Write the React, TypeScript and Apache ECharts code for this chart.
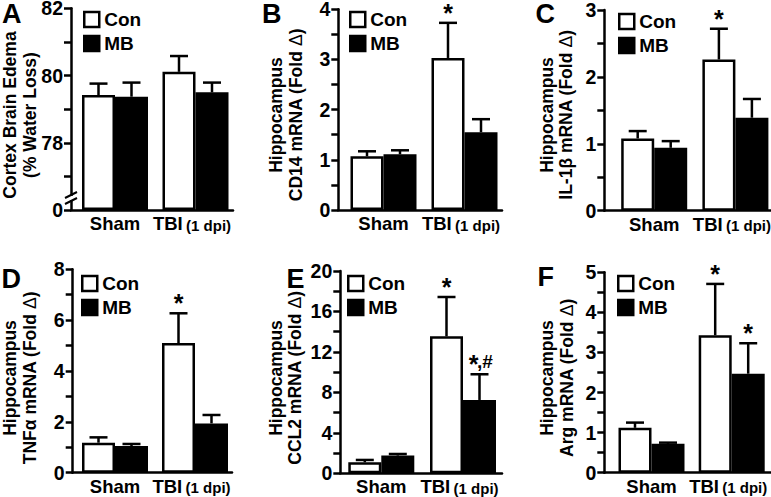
import React, { useEffect, useRef } from 'react';
import * as echarts from 'echarts';

// ---------- data ----------
const categories = ['Sham', 'TBI'];
const categoryNotes = ['', '(1 dpi)'];
const seriesNames = ['Con', 'MB'];
const panelLetters = ['A', 'B', 'C', 'D', 'E', 'F'];

// A: Cortex brain edema (% water loss)
const aConMean = [79.42, 80.11];
const aConErr = [0.34, 0.47];
const aMbMean = [79.37, 79.5];
const aMbErr = [0.42, 0.29];
const aConMarks = ['', ''];
const aMbMarks = ['', ''];
const aAxis = [76, 82, 2]; // min, max, interval
const aTickLabels: Record<number, string> = { 76: '0', 78: '78', 80: '80', 82: '82' };

// B: CD14
const bConMean = [1.07, 3.03];
const bConErr = [0.1, 0.7];
const bMbMean = [1.11, 1.55];
const bMbErr = [0.08, 0.26];
const bConMarks = ['', '*'];
const bMbMarks = ['', ''];
const bAxis = [0, 4, 1];

// C: IL-1beta
const cConMean = [1.08, 2.26];
const cConErr = [0.11, 0.46];
const cMbMean = [0.94, 1.39];
const cMbErr = [0.1, 0.28];
const cConMarks = ['', '*'];
const cMbMarks = ['', ''];
const cAxis = [0, 3, 1];

// D: TNF-alpha
const dConMean = [1.18, 5.1];
const dConErr = [0.21, 1.17];
const dMbMean = [1.05, 1.94];
const dMbErr = [0.08, 0.33];
const dConMarks = ['', '*'];
const dMbMarks = ['', ''];
const dAxis = [0, 8, 2];

// E: CCL2
const eConMean = [1.09, 13.54];
const eConErr = [0.23, 3.89];
const eMbMean = [1.75, 7.25];
const eMbErr = [0.16, 2.54];
const eConMarks = ['', '*'];
const eMbMarks = ['', '*,#'];
const eAxis = [0, 20, 4];

// F: Arg
const fConMean = [1.12, 3.43];
const fConErr = [0.13, 1.28];
const fMbMean = [0.72, 2.47];
const fMbErr = [0.03, 0.76];
const fConMarks = ['', '*'];
const fMbMarks = ['', '*'];
const fAxis = [0, 5, 1];

const titleLines = [
  ['Cortex Brain Edema', '(% Water Loss)'],
  ['Hippocampus', 'CD14 mRNA (Fold {d|Δ})'],
  ['Hippocampus', 'IL-1β mRNA (Fold {d|Δ})'],
  ['Hippocampus', 'TNFα mRNA (Fold {d|Δ})'],
  ['Hippocampus', 'CCL2 mRNA (Fold {d|Δ})'],
  ['Hippocampus', 'Arg mRNA (Fold {d|Δ})'],
];

const panelData = [
  { con: aConMean, conErr: aConErr, mb: aMbMean, mbErr: aMbErr, conMarks: aConMarks, mbMarks: aMbMarks, axis: aAxis, labels: aTickLabels },
  { con: bConMean, conErr: bConErr, mb: bMbMean, mbErr: bMbErr, conMarks: bConMarks, mbMarks: bMbMarks, axis: bAxis, labels: null },
  { con: cConMean, conErr: cConErr, mb: cMbMean, mbErr: cMbErr, conMarks: cConMarks, mbMarks: cMbMarks, axis: cAxis, labels: null },
  { con: dConMean, conErr: dConErr, mb: dMbMean, mbErr: dMbErr, conMarks: dConMarks, mbMarks: dMbMarks, axis: dAxis, labels: null },
  { con: eConMean, conErr: eConErr, mb: eMbMean, mbErr: eMbErr, conMarks: eConMarks, mbMarks: eMbMarks, axis: eAxis, labels: null },
  { con: fConMean, conErr: fConErr, mb: fMbMean, mbErr: fMbErr, conMarks: fConMarks, mbMarks: fMbMarks, axis: fAxis, labels: null },
];

// ---------- layout (pixels) ----------
const layouts = [
  { axisX: 71, axisEnd: 233, top: 8.3, bottom: 210, shamC: 115, tbiC: 195.5, legX: 83, legY: 10, t1: 10, t2: 30, tY: 115, letX: 2, letY: 14 },
  { axisX: 338.3, axisEnd: 502, top: 9.3, bottom: 210, shamC: 383.5, tbiC: 464.5, legX: 349, legY: 10, t1: 276, t2: 296, tY: 115, letX: 262, letY: 13.5 },
  { axisX: 604.3, axisEnd: 776, top: 10, bottom: 210.7, shamC: 654.2, tbiC: 735.4, legX: 618, legY: 12, t1: 547, t2: 566, tY: 115, letX: 535.5, letY: 14 },
  { axisX: 72.7, axisEnd: 232, top: 269.3, bottom: 472.7, shamC: 115, tbiC: 195, legX: 81, legY: 274, t1: 10, t2: 30, tY: 378, letX: 1.5, letY: 278.5 },
  { axisX: 340.3, axisEnd: 502, top: 271, bottom: 473.3, shamC: 381.3, tbiC: 463, legX: 347, legY: 274, t1: 276, t2: 295, tY: 378, letX: 286.5, letY: 278.5 },
  { axisX: 604.3, axisEnd: 776, top: 272.3, bottom: 472.7, shamC: 651.5, tbiC: 731.7, legX: 617, legY: 274, t1: 547, t2: 567, tY: 378, letX: 537.5, letY: 276.5 },
];

const FONT = "'Liberation Sans', Arial, Helvetica, sans-serif";
const BAR_W = 33;
const CAP = 9;
const STAR_GAP = 10;
const LW = 2.5;

function buildOption() {
  const grid: any[] = [];
  const xAxis: any[] = [];
  const yAxis: any[] = [];
  const series: any[] = [];
  const legend: any[] = [];
  const graphic: any[] = [];

  panelData.forEach((p, k) => {
    const L = layouts[k];
    const W = L.tbiC - L.shamC;
    const h = L.bottom - L.top;
    const [mn, mx, iv] = p.axis;
    const ga = 2 * k;
    const gb = 2 * k + 1;
    grid.push({ left: L.axisX, top: L.top, width: L.axisEnd - L.axisX, height: h, containLabel: false, outerBoundsMode: 'none' });
    grid.push({ left: L.shamC - W / 2, top: L.top, width: 2 * W, height: h, containLabel: false, outerBoundsMode: 'none' });

    xAxis.push({
      gridIndex: ga, type: 'category', data: categories, boundaryGap: true,
      axisLine: { show: true, onZero: false, lineStyle: { color: '#000', width: LW } },
      axisTick: { show: false }, axisLabel: { show: false }, splitLine: { show: false },
    });
    xAxis.push({
      gridIndex: gb, type: 'category', data: categories, boundaryGap: true,
      axisLine: { show: false }, axisTick: { show: false }, splitLine: { show: false },
      axisLabel: {
        show: true, interval: 0, margin: 4,
        formatter: (v: string, i: number) => (categoryNotes[i] ? `{b|${v}} {s|${categoryNotes[i]}}` : `{b|${v}}`),
        rich: {
          b: { fontSize: 18.5, fontWeight: 'bold', fontFamily: FONT, color: '#000' },
          s: { fontSize: 15, fontWeight: 'bold', fontFamily: FONT, color: '#000', padding: [3, 7, 0, 0] },
        },
      },
    });
    const labels = p.labels;
    yAxis.push({
      gridIndex: ga, type: 'value', min: mn, max: mx, interval: iv, startValue: mn,
      axisLine: { show: true, lineStyle: { color: '#000', width: LW } },
      axisTick: { show: true, length: 7, lineStyle: { color: '#000', width: LW } },
      minorTick: { show: true, splitNumber: 2, length: 7, lineStyle: { color: '#000', width: LW } },
      splitLine: { show: false }, minorSplitLine: { show: false },
      axisLabel: {
        margin: 8, fontSize: 19.5, fontWeight: 'bold', fontFamily: FONT, color: '#000', lineHeight: 16,
        padding: [3, 0, 0, 0],
        formatter: (v: number) => (labels ? (labels[v] ?? '') : String(v)),
      },
    });
    yAxis.push({ gridIndex: gb, type: 'value', min: mn, max: mx, interval: iv, startValue: mn, show: false, splitLine: { show: false } });

    const barBase = { type: 'bar', xAxisIndex: gb, yAxisIndex: gb, barWidth: BAR_W, barGap: '0%', clip: true };
    series.push({ ...barBase, name: seriesNames[0], data: p.con, itemStyle: { color: '#fff', borderColor: '#000', borderWidth: LW } });
    series.push({ ...barBase, name: seriesNames[1], data: p.mb, itemStyle: { color: '#000', borderColor: '#000', borderWidth: LW } });

    const mkErr = (means: number[], errs: number[], marks: string[], side: number) => ({
      type: 'custom', xAxisIndex: gb, yAxisIndex: gb, clip: false, z: 5,
      data: means.map((m, i) => [i, m, errs[i]]),
      renderItem: (params: any, api: any) => {
        const i = api.value(0);
        const m = api.value(1);
        const e = api.value(2);
        const p0 = api.coord([i, m]);
        const p1 = api.coord([i, m + e]);
        const x = p0[0] + (side * BAR_W) / 2;
        const children: any[] = [
          { type: 'line', shape: { x1: x, y1: p0[1], x2: x, y2: p1[1] }, style: { stroke: '#000', lineWidth: LW } },
          { type: 'line', shape: { x1: x - CAP, y1: p1[1], x2: x + CAP, y2: p1[1] }, style: { stroke: '#000', lineWidth: LW } },
        ];
        const mk = marks[params.dataIndex];
        if (mk) {
          const rest = mk.replace('*', '');
          children.push({
            type: 'text', x: rest ? x - 6 : x, y: p1[1] - STAR_GAP,
            style: { text: '*', align: 'center', verticalAlign: 'middle', fontSize: 25, fontWeight: 'bold', fontFamily: FONT, fill: '#000' },
          });
          if (rest) {
            children.push({
              type: 'text', x: x - 2.5, y: p1[1] - 13,
              style: { text: rest, align: 'left', verticalAlign: 'middle', fontSize: 19, fontWeight: 'bold', fontFamily: FONT, fill: '#000' },
            });
          }
        }
        return { type: 'group', children };
      },
    });
    series.push(mkErr(p.con, p.conErr, p.conMarks, -1));
    series.push(mkErr(p.mb, p.mbErr, p.mbMarks, 1));

    legend.push({
      left: L.legX, top: L.legY, orient: 'vertical', padding: 0, itemGap: 5,
      itemWidth: 15, itemHeight: 15, icon: 'rect', selectedMode: false,
      data: [
        { name: seriesNames[0], itemStyle: { color: '#fff', borderColor: '#000', borderWidth: LW } },
        { name: seriesNames[1], itemStyle: { color: '#000', borderColor: '#000', borderWidth: LW } },
      ],
      textStyle: { fontSize: 19, fontWeight: 'bold', fontFamily: FONT, color: '#000', lineHeight: 15 },
    });

    // panel letter
    graphic.push({
      type: 'text', x: L.letX, y: L.letY, z: 100,
      style: { text: panelLetters[k], fontSize: 27, lineHeight: 20, fontWeight: 'bold', fontFamily: FONT, fill: '#000', align: 'left', verticalAlign: 'middle' },
    });
    // axis titles
    const tl = titleLines[k];
    [L.t1, L.t2].forEach((tx, j) => {
      graphic.push({
        type: 'text', x: tx, y: L.tY, rotation: Math.PI / 2, z: 100,
        style: {
          text: tl[j], fontSize: 17.5, fontWeight: 'bold', fontFamily: FONT, fill: '#000',
          align: 'center', verticalAlign: 'middle',
          rich: { d: { fontSize: 17.5, fontWeight: 'normal', fontFamily: FONT, fill: '#000' } },
        },
      });
    });
  });

  // axis break on panel A
  const LA = layouts[0];
  graphic.push({ type: 'rect', z: 100, shape: { x: LA.axisX - 3, y: 196, width: 6, height: 4 }, style: { fill: '#fff' } });
  graphic.push({ type: 'line', z: 101, shape: { x1: LA.axisX - 6, y1: 198, x2: LA.axisX + 6, y2: 192 }, style: { stroke: '#000', lineWidth: 2 } });
  graphic.push({ type: 'line', z: 101, shape: { x1: LA.axisX - 6, y1: 204, x2: LA.axisX + 6, y2: 198 }, style: { stroke: '#000', lineWidth: 2 } });

  return {
    animation: false,
    backgroundColor: '#fff',
    grid, xAxis, yAxis, series, legend, graphic,
  };
}

export default function App() {
  const ref = useRef<HTMLDivElement>(null);
  useEffect(() => {
    if (!ref.current) return;
    const chart = echarts.init(ref.current, null, { renderer: 'svg' });
    chart.setOption(buildOption() as any);
    return () => chart.dispose();
  }, []);
  return <div ref={ref} style={{ position: 'fixed', left: 0, top: 0, width: 771, height: 497 }} />;
}
